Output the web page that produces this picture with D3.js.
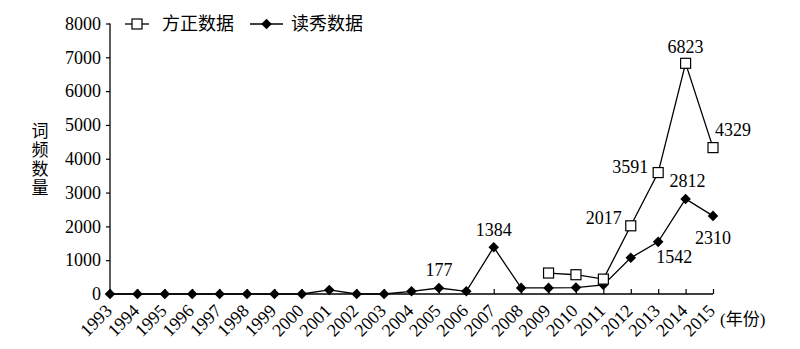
<!DOCTYPE html>
<html>
<head>
<meta charset="utf-8">
<script src="https://cdn.jsdelivr.net/npm/d3@7"></script>
<style>
  body { margin: 0; background: #fff; }
  svg text { font-family: "Liberation Serif", "Noto Sans CJK SC", serif; fill: #000; }
</style>
</head>
<body>
<svg id="chart" width="800" height="349"></svg>
<script>
// years on the x axis
var years = [1993, 1994, 1995, 1996, 1997, 1998, 1999, 2000, 2001, 2002, 2003, 2004,
             2005, 2006, 2007, 2008, 2009, 2010, 2011, 2012, 2013, 2014, 2015];
// 读秀数据, one value per year
var duxiu = [0, 0, 0, 0, 0, 0, 0, 0, 120, 0, 0, 80,
             177, 80, 1384, 180, 180, 190, 270, 1070, 1542, 2812, 2310];
// 方正数据 only starts in 2009
var fangzhengYears = [2009, 2010, 2011, 2012, 2013, 2014, 2015];
var fangzheng = [620, 570, 440, 2017, 3591, 6823, 4329];
var yTicks = [0, 1000, 2000, 3000, 4000, 5000, 6000, 7000, 8000];
var seriesNames = ["方正数据", "读秀数据"];
// which points carry a value label
var labelled = [
  {series: "duxiu", year: 2005, text: "177"},
  {series: "duxiu", year: 2007, text: "1384"},
  {series: "duxiu", year: 2013, text: "1542"},
  {series: "duxiu", year: 2014, text: "2812"},
  {series: "duxiu", year: 2015, text: "2310"},
  {series: "fangzheng", year: 2012, text: "2017"},
  {series: "fangzheng", year: 2013, text: "3591"},
  {series: "fangzheng", year: 2014, text: "6823"},
  {series: "fangzheng", year: 2015, text: "4329"}
];
// where each label sits relative to its point (layout only)
var labelPlace = {
  "177":  {dx: 0,   dy: -12, anchor: "middle"},
  "1384": {dx: 0,   dy: -11, anchor: "middle"},
  "1542": {dx: 16,  dy: 21,  anchor: "middle"},
  "2812": {dx: 2,   dy: -12, anchor: "middle"},
  "2310": {dx: 0,   dy: 28,  anchor: "middle"},
  "2017": {dx: -9,  dy: -2,  anchor: "end"},
  "3591": {dx: -10, dy: 0,   anchor: "end"},
  "6823": {dx: 0,   dy: -10, anchor: "middle"},
  "4329": {dx: 2,   dy: -12, anchor: "start"}
};

var serif = "'Liberation Serif', serif";
var cjk = "'Noto Sans CJK SC', sans-serif";

var svg = d3.select("#chart");
var x = d3.scalePoint().domain(years).range([110, 713]);
var y = d3.scaleLinear().domain([0, 8000]).range([294, 23.5]);

// y axis
var yAxis = svg.append("g").attr("transform", "translate(110,0)")
  .call(d3.axisLeft(y).tickValues(yTicks).tickFormat(d3.format("d")).tickSize(4).tickPadding(5));
yAxis.attr("font-family", null).attr("font-size", null);
yAxis.select(".domain").attr("d", "M0," + y(8000) + "V" + y(0)).attr("stroke-width", 1.6).attr("stroke", "#333");
yAxis.selectAll(".tick line").attr("stroke-width", 1.2);
yAxis.selectAll("text").style("font-size", "18px").style("font-family", serif);

// x axis, ticks pointing up into the plot; labels drawn by hand below
var xAxis = svg.append("g").attr("transform", "translate(0," + y(0) + ")")
  .call(d3.axisBottom(x).tickSize(-5).tickSizeOuter(0).tickFormat(""));
xAxis.select(".domain").attr("d", "M110,0H713").attr("stroke-width", 1.6);
xAxis.selectAll(".tick line").attr("stroke-width", 1.2);

svg.append("g").selectAll("text").data(years).enter().append("text")
  .attr("text-anchor", "end")
  .attr("transform", function(d) { return "translate(" + (x(d) + 3) + ",312) rotate(-45)"; })
  .style("font-size", "18px").style("font-family", serif)
  .text(function(d) { return d; });

svg.append("text").attr("x", 720).attr("y", 325)
  .style("font-size", "17px").text("(年份)");

// y label, one vertical text
svg.append("text").attr("x", 40).attr("y", 122)
  .style("writing-mode", "vertical-rl").style("text-orientation", "upright")
  .style("font-size", "17px").style("letter-spacing", "2px")
  .style("font-family", cjk)
  .text("词频数量");

var line = d3.line().x(function(d) { return x(d[0]); }).y(function(d) { return y(d[1]); });
var duxiuPts = years.map(function(yr, i) { return [yr, duxiu[i]]; });
var fangPts = fangzhengYears.map(function(yr, i) { return [yr, fangzheng[i]]; });

svg.append("path").datum(duxiuPts).attr("d", line)
  .attr("fill", "none").attr("stroke", "#000").attr("stroke-width", 1.3);
svg.append("path").datum(fangPts).attr("d", line)
  .attr("fill", "none").attr("stroke", "#000").attr("stroke-width", 1.3);

var diamond = d3.symbol().type(d3.symbolSquare).size(56);
svg.append("g").selectAll("path").data(duxiuPts).enter().append("path")
  .attr("d", diamond)
  .attr("transform", function(d) { return "translate(" + x(d[0]) + "," + y(d[1]) + ") rotate(45)"; })
  .attr("fill", "#000");

svg.append("g").selectAll("rect").data(fangPts).enter().append("rect")
  .attr("x", function(d) { return x(d[0]) - 5; })
  .attr("y", function(d) { return y(d[1]) - 5; })
  .attr("width", 10).attr("height", 10)
  .attr("fill", "#fff").attr("stroke", "#000").attr("stroke-width", 1.2);

// value labels
svg.append("g").selectAll("text").data(labelled).enter().append("text")
  .attr("x", function(d) { return x(d.year) + labelPlace[d.text].dx; })
  .attr("y", function(d) {
    var v = d.series == "duxiu" ? duxiu[years.indexOf(d.year)] : fangzheng[fangzhengYears.indexOf(d.year)];
    return y(v) + labelPlace[d.text].dy;
  })
  .attr("text-anchor", function(d) { return labelPlace[d.text].anchor; })
  .style("font-size", "18px").style("font-family", serif)
  .text(function(d) { return d.text; });

// legend
var leg = svg.append("g").attr("transform", "translate(125,24)");
leg.append("line").attr("x1", 0).attr("x2", 24).attr("stroke", "#000").attr("stroke-width", 1.3);
leg.append("rect").attr("x", 7).attr("y", -5).attr("width", 10).attr("height", 10)
  .attr("fill", "#fff").attr("stroke", "#000").attr("stroke-width", 1.2);
leg.append("text").attr("x", 37).attr("y", 6).style("font-size", "18px")
  .style("font-family", cjk).text(seriesNames[0]);
leg.append("line").attr("x1", 125).attr("x2", 158).attr("stroke", "#000").attr("stroke-width", 1.3);
leg.append("path").attr("d", diamond).attr("transform", "translate(141.5,0) rotate(45)").attr("fill", "#000");
leg.append("text").attr("x", 166).attr("y", 6).style("font-size", "18px")
  .style("font-family", cjk).text(seriesNames[1]);
</script>
</body>
</html>
